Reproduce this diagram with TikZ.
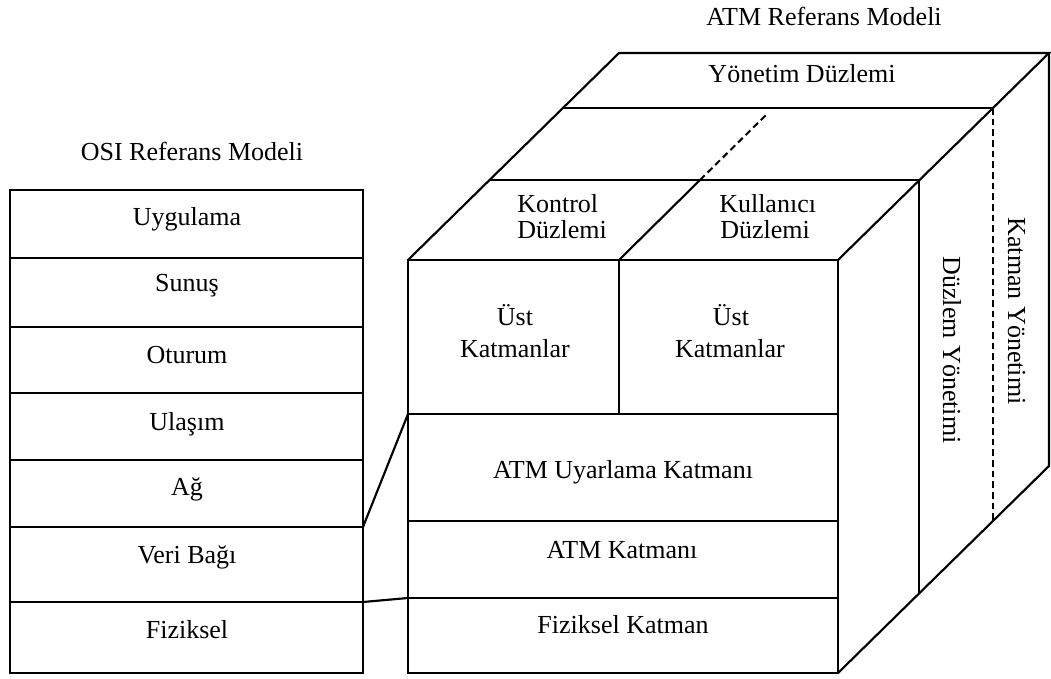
\documentclass[tikz,border=0pt]{standalone}
\usepackage{fontspec}
\setmainfont{Liberation Serif}
\begin{document}
\begin{tikzpicture}[x=0.75pt,y=-0.75pt,
  lbl/.style={anchor=base,inner sep=0pt,font=\fontsize{19.5}{23}\selectfont},
  edge/.style={line width=1.6pt,line join=miter},
  dashline/.style={line width=1.2pt,dash pattern=on 5pt off 3pt}]
\useasboundingbox (0,0) rectangle (1051,679);
% ---------- OSI ----------
\coordinate (oTL) at (10,190);
\coordinate (oBR) at (363,673);
\draw[edge] (oTL) rectangle (oBR);
\foreach \y/\n in {258/a,327/b,393/c,460/d,527/e,602/f}{
  \coordinate (oL\n) at (10,\y);
  \coordinate (oR\n) at (363,\y);
  \draw[edge] (oL\n) -- (oR\n);
}
\node[lbl] (osititle) at (192,160) {OSI Referans Modeli};
\node[lbl] (o1) at (187,225) {Uygulama};
\node[lbl] (o2) at (187,291) {Sunuş};
\node[lbl] (o3) at (187,363) {Oturum};
\node[lbl] (o4) at (187,430) {Ulaşım};
\node[lbl] (o5) at (187,495) {Ağ};
\node[lbl] (o6) at (187,563) {Veri Bağı};
\node[lbl] (o7) at (187,638) {Fiziksel};
% ---------- ATM front face ----------
\coordinate (fTL) at (408,260);
\coordinate (fTR) at (838,260);
\coordinate (fBL) at (408,673);
\coordinate (fBR) at (838,673);
\draw[edge] (fTL) -- (fTR) -- (fBR) -- (fBL) -- cycle;
\foreach \y/\n in {414/a,521/b,598/c}{
  \coordinate (fL\n) at (408,\y);
  \coordinate (fR\n) at (838,\y);
  \draw[edge] (fL\n) -- (fR\n);
}
\coordinate (fDivT) at (619,260);
\coordinate (fDivB) at (619,414);
\draw[edge] (fDivT) -- (fDivB);
% ---------- top face ----------
\coordinate (t1L) at (489,180);  \coordinate (t1R) at (919,180);
\coordinate (t2L) at (563,108);  \coordinate (t2R) at (993,108);
\coordinate (t3L) at (619,53);   \coordinate (t3R) at (1049,53);
\draw[edge] (fTL) -- (t3L) -- (t3R) -- (fTR);
\draw[edge] (t1L) -- (t1R);
\draw[edge] (t2L) -- (t2R);
\coordinate (tDiv1) at (700,180);
\coordinate (tDiv2) at (767,114);
\draw[edge] (fDivT) -- (tDiv1);
\draw[dashline,line width=1.5pt] (tDiv1) -- (tDiv2);
% ---------- right face ----------
\coordinate (r1B) at (919,593);
\coordinate (r2B) at (993,521);
\coordinate (r3B) at (1049,466);
\draw[edge] (t3R) -- (r3B) -- (fBR);
\draw[edge] (t1R) -- (r1B);
\draw[dashline] (t2R) -- (r2B);
% ---------- connectors ----------
\draw[edge] (oRe) -- (fLa);
\draw[edge] (oRf) -- (fLc);
% ---------- ATM texts ----------
\node[lbl] (atmtitle) at (824,25) {ATM Referans Modeli};
\node[lbl] (yon) at (802,82) {Yönetim Düzlemi};
\node[lbl,anchor=base west] (kon1) at (517,212) {Kontrol};
\node[lbl,anchor=base west] (kon2) at (517,238) {Düzlemi};
\node[lbl,anchor=base west] (kul1) at (719,212) {Kullanıcı};
\node[lbl,anchor=base west] (kul2) at (720,238) {Düzlemi};
\node[lbl] (ust1a) at (515,325) {Üst};
\node[lbl] (ust1b) at (515,357) {Katmanlar};
\node[lbl] (ust2a) at (731,325) {Üst};
\node[lbl] (ust2b) at (730,357) {Katmanlar};
\node[lbl] (aal) at (623,478) {ATM Uyarlama Katmanı};
\node[lbl] (atm) at (622,558) {ATM Katmanı};
\node[lbl] (fiz) at (623,633) {Fiziksel Katman};
\node[lbl,rotate=-90] (dy) at (943,350) {Düzlem Yönetimi};
\node[lbl,rotate=-90] (ky) at (1008,311) {Katman Yönetimi};
\end{tikzpicture}
\end{document}
